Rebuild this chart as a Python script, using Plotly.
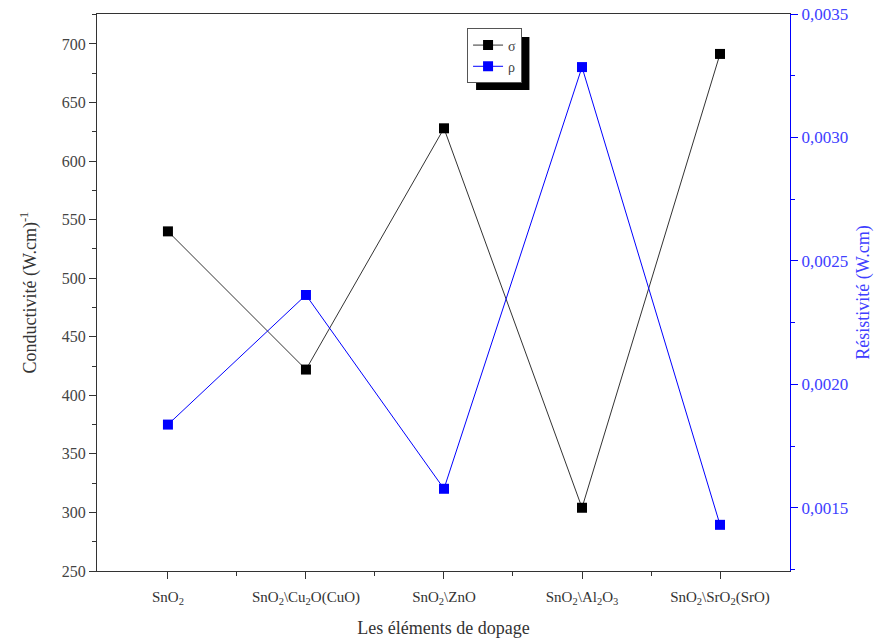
import plotly.graph_objects as go

categories = ["SnO<sub>2</sub>", "SnO<sub>2</sub>\\Cu<sub>2</sub>O(CuO)", "SnO<sub>2</sub>\\ZnO",
              "SnO<sub>2</sub>\\Al<sub>2</sub>O<sub>3</sub>", "SnO<sub>2</sub>\\SrO<sub>2</sub>(SrO)"]
sigma = [540, 422, 628, 304, 691.5]
rho = [0.001837, 0.002362, 0.001577, 0.003285, 0.001431]
xpos = list(range(len(categories)))

FONT = "Liberation Serif, Times New Roman, serif"
fig = go.Figure()
fig.add_trace(go.Scatter(x=xpos, y=sigma, name="σ", mode="lines+markers",
                         line=dict(color="#333333", width=1),
                         marker=dict(symbol="square", size=10, color="#000000")))
fig.add_trace(go.Scatter(x=xpos, y=rho, name="ρ", mode="lines+markers", yaxis="y2",
                         line=dict(color="#0000ff", width=1),
                         marker=dict(symbol="square", size=10, color="#0000ff")))

fig.update_layout(
    width=874, height=641,
    margin=dict(l=97, r=84, t=14, b=70),
    paper_bgcolor="white", plot_bgcolor="rgba(0,0,0,0)",
    separators=", ",
    font=dict(family=FONT, size=13, color="#333333"),
    showlegend=True,
    legend=dict(x=0.534, y=0.974, xanchor="left", yanchor="top",
                bgcolor="white", bordercolor="#555555", borderwidth=1,
                font=dict(family=FONT, size=14, color="#444444"),
                itemwidth=30, tracegroupgap=0),
    xaxis=dict(range=[-0.514, 4.507], tickmode="array", tickvals=xpos, ticktext=categories,
               automargin=False,
               showgrid=False, zeroline=False, showline=True, linecolor="#333333", linewidth=1,
               mirror=True, ticks="outside", ticklen=7, tickcolor="#333333",
               ticklabelstandoff=5,
               minor=dict(tickvals=[0.5, 1.5, 2.5, 3.5], ticks="outside", ticklen=4, tickcolor="#333333"),
               tickfont=dict(family=FONT, size=15, color="#333333"),
               title=dict(text="Les éléments de dopage", font=dict(family=FONT, size=18, color="#333333"), standoff=15)),
    yaxis=dict(range=[250, 725.6], tickmode="linear", tick0=250, dtick=50,
               automargin=False,
               showgrid=False, zeroline=False, showline=True, linecolor="#333333", linewidth=1,
               ticks="outside", ticklen=7, tickcolor="#333333",
               minor=dict(dtick=25, ticks="outside", ticklen=4, tickcolor="#333333"),
               tickfont=dict(family=FONT, size=16, color="#444444"),
               title=dict(text="Conductivité (W.cm)<sup>-1</sup>", font=dict(family=FONT, size=18, color="#333333"), standoff=20)),
    yaxis2=dict(overlaying="y", side="right", range=[0.001244, 0.0035], tickmode="linear",
                tick0=0.0015, dtick=0.0005, tickformat=".4f",
                automargin=False,
                showgrid=False, zeroline=False, showline=True, linecolor="#0000ff", linewidth=1,
                ticks="outside", ticklen=7, tickcolor="#0000ff",
                minor=dict(dtick=0.00025, ticks="outside", ticklen=4, tickcolor="#0000ff"),
                tickfont=dict(family=FONT, size=17, color="#4040ff"),
                title=dict(text="Résistivité (W.cm)", font=dict(family=FONT, size=18, color="#4040ff"), standoff=20)),
)

# legend drop shadow
fig.add_shape(type="rect", xref="paper", yref="paper",
              x0=0.547, x1=0.624, y0=0.8636, y1=0.9587,
              fillcolor="black", line=dict(width=0), layer="below")

fig.write_html("out.html")
